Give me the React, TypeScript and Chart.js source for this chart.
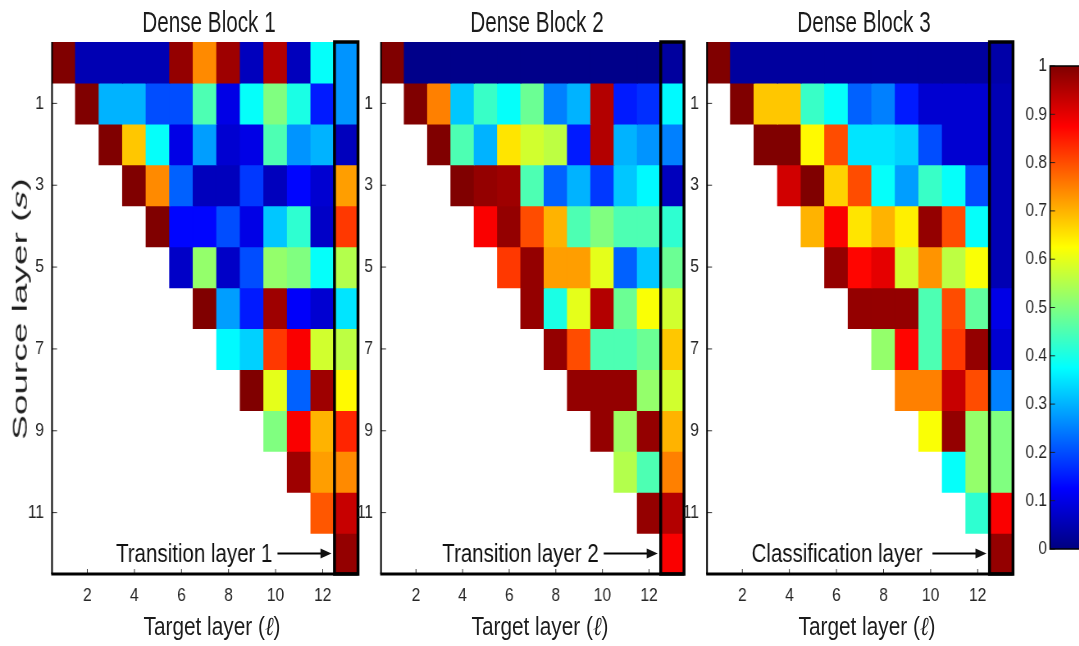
import React, { useEffect, useRef } from 'react';
import { Chart, registerables } from 'chart.js';

Chart.register(...registerables);

// ---------- data ----------
const targetLayers = [1, 2, 3, 4, 5, 6, 7, 8, 9, 10, 11, 12, 13];
const sourceLayers = [0, 1, 2, 3, 4, 5, 6, 7, 8, 9, 10, 11, 12];
const xTickValues = [2, 4, 6, 8, 10, 12];
const yTickValues = [1, 3, 5, 7, 9, 11];
const colorbarTicks = [0, 0.1, 0.2, 0.3, 0.4, 0.5, 0.6, 0.7, 0.8, 0.9, 1];

const panelTitles = ['Dense Block 1', 'Dense Block 2', 'Dense Block 3'];
const endLayerNames = ['Transition layer 1', 'Transition layer 2', 'Classification layer'];

// row s holds weights for target layers s+1 .. 13
const block1 = [
  [1.0, 0.05, 0.05, 0.05, 0.05, 0.98, 0.74, 0.97, 0.06, 0.95, 0.06, 0.38, 0.27],
  [1.0, 0.3, 0.3, 0.2, 0.2, 0.45, 0.1, 0.38, 0.5, 0.4, 0.15, 0.27],
  [1.0, 0.68, 0.38, 0.1, 0.28, 0.08, 0.1, 0.45, 0.27, 0.3, 0.06],
  [1.0, 0.74, 0.22, 0.06, 0.06, 0.18, 0.06, 0.13, 0.08, 0.72],
  [1.0, 0.13, 0.13, 0.2, 0.1, 0.32, 0.42, 0.07, 0.82],
  [0.07, 0.52, 0.07, 0.2, 0.52, 0.5, 0.38, 0.55],
  [1.0, 0.28, 0.15, 0.97, 0.12, 0.08, 0.35],
  [0.37, 0.33, 0.82, 0.88, 0.58, 0.56],
  [1.0, 0.6, 0.22, 0.97, 0.63],
  [0.5, 0.88, 0.7, 0.84],
  [0.97, 0.72, 0.74],
  [0.79, 0.93],
  [0.98],
];

const block2 = [
  [1.0, 0.01, 0.01, 0.01, 0.01, 0.01, 0.01, 0.01, 0.01, 0.01, 0.01, 0.01, 0.03],
  [1.0, 0.75, 0.32, 0.43, 0.38, 0.48, 0.25, 0.3, 0.95, 0.15, 0.17, 0.37],
  [1.0, 0.45, 0.3, 0.65, 0.58, 0.56, 0.15, 0.95, 0.3, 0.27, 0.25],
  [1.0, 0.98, 0.97, 0.45, 0.22, 0.3, 0.18, 0.32, 0.37, 0.06],
  [0.88, 0.98, 0.8, 0.7, 0.45, 0.5, 0.45, 0.45, 0.42],
  [0.82, 0.98, 0.72, 0.72, 0.6, 0.22, 0.32, 0.48],
  [0.98, 0.4, 0.6, 0.95, 0.48, 0.62, 0.58],
  [0.98, 0.8, 0.45, 0.45, 0.48, 0.68],
  [0.98, 0.98, 0.98, 0.52, 0.58],
  [0.98, 0.53, 0.98, 0.7],
  [0.55, 0.45, 0.75],
  [0.98, 0.95],
  [0.88],
];

const block3 = [
  [1.0, 0.03, 0.03, 0.03, 0.03, 0.03, 0.03, 0.03, 0.03, 0.03, 0.03, 0.03, 0.04],
  [1.0, 0.68, 0.68, 0.43, 0.38, 0.22, 0.25, 0.15, 0.08, 0.08, 0.08, 0.05],
  [1.0, 1.0, 0.63, 0.8, 0.35, 0.35, 0.33, 0.2, 0.08, 0.08, 0.05],
  [0.92, 1.0, 0.67, 0.8, 0.38, 0.28, 0.43, 0.38, 0.2, 0.05],
  [0.7, 0.88, 0.65, 0.7, 0.64, 0.98, 0.8, 0.38, 0.05],
  [0.98, 0.87, 0.9, 0.58, 0.73, 0.56, 0.62, 0.05],
  [0.98, 0.98, 0.98, 0.45, 0.8, 0.47, 0.1],
  [0.52, 0.87, 0.45, 0.82, 0.98, 0.08],
  [0.75, 0.75, 0.93, 0.8, 0.25],
  [0.62, 0.98, 0.52, 0.5],
  [0.38, 0.52, 0.5],
  [0.42, 0.88],
  [0.98],
];

const blocks = [block1, block2, block3];

// ---------- layout (screen px) ----------
const K = 0.82; // horizontal compression of the canvas layer
const W = 1079;
const H = 646;
const panelLeft = [52, 381, 707];
const panelRight = [358, 684, 1013];
const plotTop = 42;
const plotBottom = 574;
const noteGap = [62, 62, 67];
const FONT = '"Liberation Sans", Arial, Helvetica, sans-serif';
const TICK_COLOR = '#262626';

const clamp = (v: number) => Math.max(0, Math.min(1, v));
function jetRgb(v: number): [number, number, number] {
  const r = clamp(1.5 - Math.abs(4 * v - 3));
  const g = clamp(1.5 - Math.abs(4 * v - 2));
  const b = clamp(1.5 - Math.abs(4 * v - 1));
  return [Math.round(r * 255), Math.round(g * 255), Math.round(b * 255)];
}
const jet = (v: number) => {
  const [r, g, b] = jetRgb(v);
  return `rgb(${r},${g},${b})`;
};

function HeatPanel({ idx }: { idx: number }) {
  const ref = useRef<HTMLCanvasElement | null>(null);
  const left = panelLeft[idx];
  const right = panelRight[idx];
  const canvasLeft = Math.floor((left - 50) / K);
  const canvasWidth = Math.ceil((right + 6) / K) - canvasLeft;
  const yAxisW = left / K - canvasLeft;
  const padRight = canvasLeft + canvasWidth - right / K;

  useEffect(() => {
    const rows = blocks[idx];
    const note = endLayerNames[idx];
    const gap = noteGap[idx];
    const decor = {
      id: 'decor',
      afterDatasetsDraw(chart: any) {
        const { ctx, chartArea: a, scales } = chart;
        const x = scales.x;
        const y = scales.y;
        const half = (x.getPixelForValue(1) - x.getPixelForValue(0)) / 2;
        ctx.save();
        // tick marks (inside)
        ctx.strokeStyle = '#333';
        ctx.lineWidth = 1;
        xTickValues.forEach((v) => {
          const px = x.getPixelForValue(v - 1);
          ctx.beginPath();
          ctx.moveTo(px, a.bottom);
          ctx.lineTo(px, a.bottom - 5);
          ctx.stroke();
        });
        yTickValues.forEach((v) => {
          const py = y.getPixelForValue(v);
          ctx.beginPath();
          ctx.moveTo(a.left, py);
          ctx.lineTo(a.left + 5 / K, py);
          ctx.stroke();
        });
        // axis lines
        ctx.strokeStyle = '#000';
        ctx.lineWidth = 2;
        ctx.beginPath();
        ctx.moveTo(a.left, a.top);
        ctx.lineTo(a.left, a.bottom);
        ctx.stroke();
        ctx.lineWidth = 3;
        ctx.beginPath();
        ctx.moveTo(a.left - 1, a.bottom);
        ctx.lineTo(a.right, a.bottom);
        ctx.stroke();
        // box around the last column
        const cx = x.getPixelForValue(12);
        ctx.lineWidth = 3.5;
        ctx.strokeRect(cx - half, a.top, 2 * half, a.bottom - a.top);
        // annotation
        const colLeft = cx - half;
        const yy = y.getPixelForValue(12);
        const fs = 25;
        ctx.font = `${fs}px ${FONT}`;
        ctx.fillStyle = '#111';
        ctx.textAlign = 'right';
        ctx.textBaseline = 'alphabetic';
        ctx.fillText(note, colLeft - gap / K, yy + 0.358 * fs);
        const x0 = colLeft - 57 / K;
        const x1 = colLeft - 3 / K;
        ctx.lineWidth = 2;
        ctx.beginPath();
        ctx.moveTo(x0, yy);
        ctx.lineTo(x1 - 8 / K, yy);
        ctx.stroke();
        ctx.beginPath();
        ctx.moveTo(x1, yy);
        ctx.lineTo(x1 - 11 / K, yy - 5);
        ctx.lineTo(x1 - 11 / K, yy + 5);
        ctx.closePath();
        ctx.fill();
        ctx.restore();
      },
    };

    const chart = new Chart(ref.current as HTMLCanvasElement, {
      type: 'bar',
      data: {
        labels: targetLayers.map(String),
        datasets: sourceLayers.map((s) => ({
          label: `source ${s}`,
          data: targetLayers.map((l) => (l > s ? [s - 0.5, s + 0.5] : null)),
          backgroundColor: targetLayers.map((l) => (l > s ? jet(rows[s][l - 1 - s]) : 'rgba(0,0,0,0)')),
          borderWidth: 0,
          barPercentage: 1,
          categoryPercentage: 1,
          grouped: false,
          inflateAmount: 0.6,
        })) as any,
      },
      options: {
        responsive: false,
        animation: false,
        devicePixelRatio: 1,
        layout: { autoPadding: false, padding: { top: plotTop, right: padRight, left: 0, bottom: 0 } },
        plugins: { legend: { display: false }, tooltip: { enabled: false }, title: { display: false } },
        scales: {
          x: {
            type: 'category',
            position: 'bottom',
            offset: true,
            grid: { display: false, drawTicks: false },
            border: { display: false },
            ticks: {
              autoSkip: false,
              maxRotation: 0,
              minRotation: 0,
              padding: 10,
              color: TICK_COLOR,
              font: { size: 19, family: FONT },
              callback: (_v: any, i: number) =>
                xTickValues.includes(targetLayers[i]) ? String(targetLayers[i]) : '',
            },
            afterFit: (sc: any) => {
              sc.height = H - plotBottom;
            },
          },
          y: {
            type: 'linear',
            position: 'left',
            reverse: true,
            min: -0.5,
            max: 12.5,
            grid: { display: false, drawTicks: false },
            border: { display: false },
            ticks: {
              padding: 8 / K,
              color: TICK_COLOR,
              font: { size: 19, family: FONT },
              callback: (v: any) => String(v),
            },
            afterBuildTicks: (sc: any) => {
              sc.ticks = yTickValues.map((v) => ({ value: v }));
            },
            afterFit: (sc: any) => {
              sc.width = yAxisW;
            },
          },
        },
      } as any,
      plugins: [decor],
    });
    return () => chart.destroy();
  }, []);

  return (
    <canvas
      ref={ref}
      width={canvasWidth}
      height={H}
      style={{ position: 'absolute', left: canvasLeft, top: 0, width: canvasWidth, height: H, display: 'block' }}
    />
  );
}

function ColorBar() {
  const ref = useRef<HTMLCanvasElement | null>(null);
  const barLeft = 1050;
  const barRight = 1090;
  const canvasLeft = Math.floor(995 / K);
  const canvasWidth = Math.ceil((barRight + 2) / K) - canvasLeft;
  const yAxisW = barLeft / K - canvasLeft;
  const padRight = canvasLeft + canvasWidth - barRight / K;
  const top = 66;
  const bottom = 549;

  useEffect(() => {
    const stops = [0, 0.125, 0.25, 0.375, 0.5, 0.625, 0.75, 0.875, 1];
    const frame = {
      id: 'cbframe',
      afterDatasetsDraw(chart: any) {
        const { ctx, chartArea: a, scales } = chart;
        const y = scales.y;
        ctx.save();
        ctx.strokeStyle = '#222';
        ctx.lineWidth = 1;
        colorbarTicks.forEach((v) => {
          const py = y.getPixelForValue(v);
          ctx.beginPath();
          ctx.moveTo(a.left, py);
          ctx.lineTo(a.left + 5 / K, py);
          ctx.moveTo(a.right, py);
          ctx.lineTo(a.right - 5 / K, py);
          ctx.stroke();
        });
        ctx.strokeStyle = '#000';
        ctx.lineWidth = 1.5;
        ctx.strokeRect(a.left, a.top, a.right - a.left, a.bottom - a.top);
        ctx.restore();
      },
    };
    const chart = new Chart(ref.current as HTMLCanvasElement, {
      type: 'bar',
      data: {
        labels: ['weight'],
        datasets: [
          {
            data: [[0, 1]],
            borderWidth: 0,
            barPercentage: 1,
            categoryPercentage: 1,
            backgroundColor: (c: any) => {
              const ch = c.chart;
              if (!ch.chartArea) return 'rgba(0,0,0,0)';
              const ys = ch.scales.y;
              const g = ch.ctx.createLinearGradient(0, ys.getPixelForValue(0), 0, ys.getPixelForValue(1));
              stops.forEach((s) => g.addColorStop(s, jet(s)));
              return g;
            },
          },
        ] as any,
      },
      options: {
        responsive: false,
        animation: false,
        devicePixelRatio: 1,
        layout: { autoPadding: false, padding: { top, right: padRight, left: 0, bottom: H - bottom } },
        plugins: { legend: { display: false }, tooltip: { enabled: false } },
        scales: {
          x: { display: false, offset: true },
          y: {
            type: 'linear',
            position: 'left',
            min: 0,
            max: 1,
            grid: { display: false, drawTicks: false },
            border: { display: false },
            ticks: {
              padding: 3 / K,
              color: TICK_COLOR,
              font: { size: 19, family: FONT },
              callback: (v: any) => (v === 0 ? '0' : v === 1 ? '1' : Number(v).toFixed(1)),
            },
            afterBuildTicks: (sc: any) => {
              sc.ticks = colorbarTicks.map((v) => ({ value: v }));
            },
            afterFit: (sc: any) => {
              sc.width = yAxisW;
            },
          },
        },
      } as any,
      plugins: [frame],
    });
    return () => chart.destroy();
  }, []);

  return (
    <canvas
      ref={ref}
      width={canvasWidth}
      height={H}
      style={{ position: 'absolute', left: canvasLeft, top: 0, width: canvasWidth, height: H, display: 'block' }}
    />
  );
}

function Label(props: {
  x: number;
  y: number;
  size: number;
  s: number;
  rotate?: boolean;
  children: React.ReactNode;
}) {
  const { x, y, size, s, rotate, children } = props;
  const transform = rotate
    ? `translate(-50%, -50%) rotate(-90deg) scaleY(${s})`
    : `translate(-50%, -50%) scaleX(${s})`;
  return (
    <div
      style={{
        position: 'absolute',
        left: x,
        top: y,
        transform,
        fontSize: size,
        lineHeight: 1,
        whiteSpace: 'nowrap',
        fontFamily: FONT,
        color: '#1c1c1c',
      }}
    >
      {children}
    </div>
  );
}

const mathStyle: React.CSSProperties = {
  fontFamily: '"DejaVu Serif", "Liberation Serif", serif',
  fontStyle: 'italic',
  lineHeight: 1,
};

export default function App() {
  const centers = panelLeft.map((l, i) => (l + panelRight[i]) / 2);
  return (
    <div
      style={{
        position: 'absolute',
        left: 0,
        top: 0,
        width: W,
        height: H,
        overflow: 'hidden',
        background: '#fff',
      }}
    >
      <div
        style={{
          position: 'absolute',
          left: 0,
          top: 0,
          width: W / K,
          height: H,
          transform: `scaleX(${K})`,
          transformOrigin: '0 0',
        }}
      >
        {[0, 1, 2].map((i) => (
          <HeatPanel key={i} idx={i} />
        ))}
        <ColorBar />
      </div>
      {panelTitles.map((t, i) => (
        <Label key={t} x={centers[i] + 4} y={21.5} size={30} s={0.69}>
          {t}
        </Label>
      ))}
      {centers.map((c, i) => (
        <Label key={`xl${i}`} x={c + 7} y={626} size={26} s={0.8}>
          Target layer (<span style={mathStyle}>ℓ</span>)
        </Label>
      ))}
      <Label x={20} y={309} size={37} s={0.57} rotate>
        Source layer (<span style={mathStyle}>s</span>)
      </Label>
    </div>
  );
}
